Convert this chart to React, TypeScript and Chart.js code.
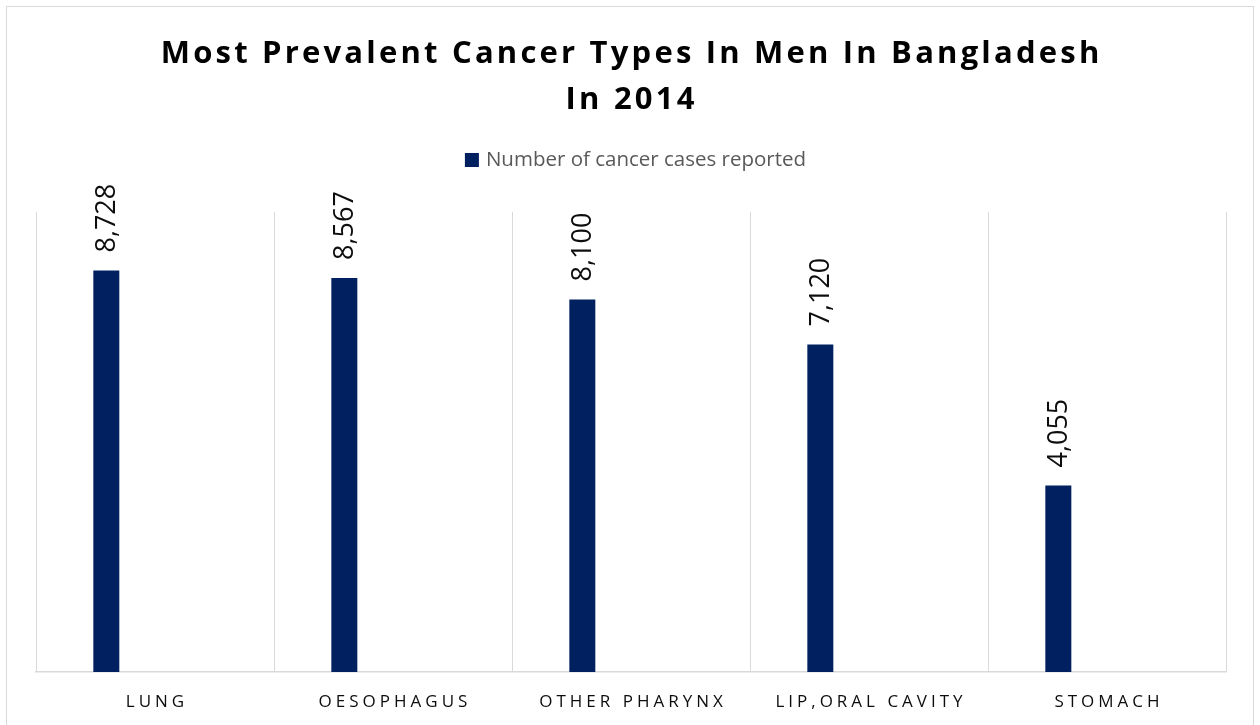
import React, { useEffect, useRef } from "react";
import { Chart, registerables } from "chart.js";

Chart.register(...registerables);

const TITLE_LINES = ["Most Prevalent Cancer Types In Men In Bangladesh", "In 2014"];
const CATEGORIES = ["LUNG", "OESOPHAGUS", "OTHER PHARYNX", "LIP,ORAL CAVITY", "STOMACH"];
const SERIES_LABEL = "Number of cancer cases reported";
const CASES = [8728, 8567, 8100, 7120, 4055];
const EMPTY_SERIES = [null, null, null, null, null];
const Y_MAX = 10000;

const BAR_COLOR = "#002060";

const overlayPlugin = {
  id: "overlay",
  afterDraw(chart: any) {
    const ctx: CanvasRenderingContext2D = chart.ctx;
    const xScale = chart.scales.x;
    const area = chart.chartArea;

    // Title
    ctx.save();
    ctx.fillStyle = "#000000";
    ctx.font = 'bold 31px "Open Sans"';
    (ctx as any).letterSpacing = "3.2px";
    ctx.textAlign = "center";
    ctx.textBaseline = "alphabetic";
    TITLE_LINES.forEach((line, i) => {
      ctx.fillText(line, 630 + 1.6, 63 + i * 46);
    });
    ctx.restore();

    // Legend
    ctx.save();
    ctx.font = '20.5px "Open Sans"';
    const ds = chart.data.datasets[0];
    const tw = ctx.measureText(ds.label).width;
    const box = 14;
    const gap = 7;
    const total = box + gap + tw;
    const lx = 635.5 - total / 2;
    ctx.fillStyle = ds.backgroundColor;
    ctx.fillRect(lx, 153, box, box);
    ctx.fillStyle = "#595959";
    ctx.textAlign = "left";
    ctx.textBaseline = "middle";
    ctx.fillText(ds.label, lx + box + gap, 160.5);
    ctx.restore();

    // Category labels
    ctx.save();
    ctx.fillStyle = "#0d0d0d";
    ctx.font = '17px "Open Sans"';
    (ctx as any).letterSpacing = "4px";
    ctx.textAlign = "center";
    ctx.textBaseline = "alphabetic";
    chart.data.labels.forEach((lab: string, i: number) => {
      const x = xScale.getPixelForTick(i);
      ctx.fillText(lab, x + 2, area.bottom + 35);
    });
    ctx.restore();

    // Data labels (rotated)
    const meta = chart.getDatasetMeta(0);
    ctx.save();
    ctx.fillStyle = "#0d0d0d";
    ctx.font = '27px "Open Sans"';
    ctx.textAlign = "left";
    ctx.textBaseline = "middle";
    meta.data.forEach((el: any, i: number) => {
      const v = chart.data.datasets[0].data[i];
      if (v == null) return;
      ctx.save();
      ctx.translate(el.x + 1, el.y - 18);
      ctx.rotate(-Math.PI / 2);
      ctx.fillText(Number(v).toLocaleString("en-US"), 0, 0);
      ctx.restore();
    });
    ctx.restore();
  },
};

export default function App() {
  const ref = useRef<HTMLCanvasElement | null>(null);

  useEffect(() => {
    if (!ref.current) return;
    const chart = new Chart(ref.current, {
      type: "bar",
      data: {
        labels: CATEGORIES,
        datasets: [
          {
            label: SERIES_LABEL,
            data: CASES,
            backgroundColor: BAR_COLOR,
            borderWidth: 0,
            categoryPercentage: 0.818,
            barPercentage: 0.267,
          },
          {
            label: "",
            data: EMPTY_SERIES as any,
            backgroundColor: "rgba(0,0,0,0)",
            borderWidth: 0,
            categoryPercentage: 0.818,
            barPercentage: 0.267,
          },
        ],
      },
      options: {
        responsive: false,
        animation: false,
        layout: { padding: { left: 36, right: 34, top: 212, bottom: 0 } },
        plugins: {
          legend: { display: false },
          title: { display: false },
          tooltip: { enabled: false },
        },
        scales: {
          x: {
            offset: true,
            grid: {
              display: true,
              offset: true,
              color: "#d9d9d9",
              lineWidth: 1,
              drawTicks: false,
            },
            border: { display: true, color: "#d9d9d9", width: 1.5 },
            ticks: { display: false },
            afterFit(scale: any) {
              scale.height = 53;
            },
          },
          y: {
            display: false,
            min: 0,
            max: Y_MAX,
          },
        },
      },
      plugins: [overlayPlugin],
    });
    return () => chart.destroy();
  }, []);

  return (
    <div
      style={{
        position: "fixed",
        left: 0,
        top: 0,
        width: 1260,
        height: 725,
        background: "#ffffff",
        overflow: "hidden",
      }}
    >
      <div
        style={{
          position: "absolute",
          left: 6,
          top: 6,
          width: 1248,
          height: 740,
          border: "1.5px solid #d9d9d9",
          boxSizing: "border-box",
        }}
      />
      <canvas ref={ref} width={1260} height={725} style={{ position: "absolute", left: 0, top: 0 }} />
    </div>
  );
}
